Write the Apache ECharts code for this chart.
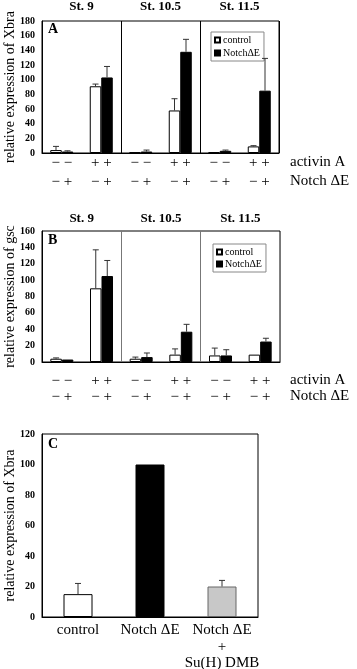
<!DOCTYPE html>
<html><head><meta charset="utf-8">
<script src="https://cdn.jsdelivr.net/npm/echarts@6/dist/echarts.min.js"></script>
<style>html,body{margin:0;padding:0;background:#fff}#c{width:357px;height:669px}</style>
</head><body><div id="c"></div>
<script>
const stages = ['St. 9', 'St. 10.5', 'St. 11.5'];
const activinRow = ['− −', '+ +', '− −', '+ +', '− −', '+ +'];
const notchRow = ['− +', '− +', '− +', '− +', '− +', '− +'];
const xbraControl = [4, 91, 1, 58, 1, 9];
const xbraControlErr = [5, 3, 0, 16, 0, 1];
const xbraNotch = [2, 103, 2, 138, 3, 85];
const xbraNotchErr = [1, 15, 2, 17, 1, 44];
const gscControl = [4, 90, 4, 9, 8, 9];
const gscControlErr = [1, 47, 2, 7, 9, 0];
const gscNotch = [3, 105, 6, 37, 8, 25];
const gscNotchErr = [0, 19, 5, 9, 7, 4];
const cCategories = ['control', 'Notch ΔE', 'Notch ΔE\n+\nSu(H) DMB'];
const cValues = [15, 100, 20];
const cErr = [7, 0, 4];

const FONT = 'Liberation Serif';
const catLabels = activinRow.map((a, i) => a + '\n' + notchRow[i]);

function errData(vals, errs) {
  return vals.map((v, i) => [i, v, v + errs[i], errs[i]]);
}
function errRender(offset) {
  return function (params, api) {
    if (api.value(3) <= 0) return null;
    const b = api.coord([api.value(0), api.value(1)]);
    const t = api.coord([api.value(0), api.value(2)]);
    const cx = b[0] + offset;
    const st = { stroke: '#333', lineWidth: 1 };
    return { type: 'group', children: [
      { type: 'line', shape: { x1: cx, y1: b[1], x2: cx, y2: t[1] }, style: st },
      { type: 'line', shape: { x1: cx - 3, y1: t[1], x2: cx + 3, y2: t[1] }, style: st }
    ]};
  };
}
function errSeries(xi, yi, vals, errs, offset) {
  return { type: 'custom', xAxisIndex: xi, yAxisIndex: yi, z: 10,
    renderItem: errRender(offset), data: errData(vals, errs), encode: { x: 0, y: [1, 2] }, silent: true };
}
function yAx(grid, max, name, gap) {
  return { type: 'value', gridIndex: grid, min: 0, max: max, interval: 20,
    axisLine: { show: true, lineStyle: { color: '#000' } }, axisTick: { show: false }, splitLine: { show: false },
    axisLabel: { fontFamily: FONT, fontSize: 10, fontWeight: 'bold', color: '#000', margin: 7 },
    name: name, nameLocation: 'middle', nameGap: gap, nameMoveOverlap: false,
    nameTextStyle: { fontFamily: FONT, fontSize: 14, color: '#000' } };
}
const ctrlStyle = { color: '#fff', borderColor: '#000', borderWidth: 1 };
const notchStyle = { color: '#000', borderColor: '#000', borderWidth: 1 };
const gridBase = { show: true, borderColor: '#000', borderWidth: 1, backgroundColor: 'transparent', containLabel: false, outerBoundsMode: 'none' };

const option = {
  animation: false,
  grid: [
    Object.assign({ left: 42, top: 21, width: 237, height: 132 }, gridBase),
    Object.assign({ left: 42, top: 231, width: 238, height: 131 }, gridBase),
    Object.assign({ left: 42, top: 434, width: 216, height: 183 }, gridBase)
  ],
  xAxis: [
    { type: 'category', gridIndex: 0, data: catLabels, axisTick: { show: false },
      axisLine: { lineStyle: { color: '#000' } },
      axisLabel: { fontFamily: FONT, fontSize: 15, color: '#000', lineHeight: 19, margin: 1, interval: 0 } },
    { type: 'category', gridIndex: 0, position: 'top', data: stages, axisTick: { show: false }, axisLine: { show: false },
      splitLine: { show: true, lineStyle: { color: '#000', width: 1 } },
      axisLabel: { fontFamily: FONT, fontSize: 13, fontWeight: 'bold', color: '#000', margin: 8 } },
    { type: 'category', gridIndex: 1, data: catLabels, axisTick: { show: false },
      axisLine: { lineStyle: { color: '#000' } },
      axisLabel: { fontFamily: FONT, fontSize: 15, color: '#000', lineHeight: 16, margin: 11, interval: 0 } },
    { type: 'category', gridIndex: 1, position: 'top', data: stages, axisTick: { show: false }, axisLine: { show: false },
      splitLine: { show: true, lineStyle: { color: '#777', width: 1 } },
      axisLabel: { fontFamily: FONT, fontSize: 13, fontWeight: 'bold', color: '#000', margin: 6 } },
    { type: 'category', gridIndex: 2, data: cCategories, axisTick: { show: false },
      axisLine: { lineStyle: { color: '#000' } },
      axisLabel: { fontFamily: FONT, fontSize: 15, color: '#000', lineHeight: 16.5, margin: 5, interval: 0 } }
  ],
  yAxis: [
    yAx(0, 180, 'relative expression of Xbra', 25),
    yAx(1, 160, 'relative expression of gsc', 25),
    yAx(2, 120, 'relative expression of Xbra', 25)
  ],
  legend: [
    { left: 211, top: 32, orient: 'vertical', data: ['control', 'NotchΔE'], icon: 'rect', itemWidth: 5, itemHeight: 5, itemGap: 3,
      padding: [3, 4, 3, 3], borderColor: '#888', borderWidth: 1, selectedMode: false,
      textStyle: { fontFamily: FONT, fontSize: 10, color: '#000', padding: [0, 0, 0, -2] } },
    { left: 213, top: 244, orient: 'vertical', data: ['control', 'NotchΔE'], icon: 'rect', itemWidth: 5, itemHeight: 5, itemGap: 2,
      padding: [3, 4, 3, 3], borderColor: '#888', borderWidth: 1, selectedMode: false,
      textStyle: { fontFamily: FONT, fontSize: 10, color: '#000', padding: [0, 0, 0, -2] } }
  ],
  graphic: [
    { type: 'text', left: 48, top: 22, style: { text: 'A', font: 'bold 14px "Liberation Serif"', fill: '#000' } },
    { type: 'text', left: 48, top: 233, style: { text: 'B', font: 'bold 14px "Liberation Serif"', fill: '#000' } },
    { type: 'text', left: 48, top: 437, style: { text: 'C', font: 'bold 14px "Liberation Serif"', fill: '#000' } },
    { type: 'text', left: 290, top: 155, style: { text: 'activin A', font: '15px "Liberation Serif"', fill: '#000' } },
    { type: 'text', left: 290, top: 174, style: { text: 'Notch ΔE', font: '15px "Liberation Serif"', fill: '#000' } },
    { type: 'text', left: 290, top: 373, style: { text: 'activin A', font: '15px "Liberation Serif"', fill: '#000' } },
    { type: 'text', left: 290, top: 389, style: { text: 'Notch ΔE', font: '15px "Liberation Serif"', fill: '#000' } }
  ],
  series: [
    { name: 'control', type: 'bar', xAxisIndex: 0, yAxisIndex: 0, data: xbraControl, barWidth: 11.5, barGap: '0%', itemStyle: ctrlStyle },
    { name: 'NotchΔE', type: 'bar', xAxisIndex: 0, yAxisIndex: 0, data: xbraNotch, barWidth: 11.5, barGap: '0%', itemStyle: notchStyle },
    errSeries(0, 0, xbraControl, xbraControlErr, -5.75),
    errSeries(0, 0, xbraNotch, xbraNotchErr, 5.75),
    { name: 'control', type: 'bar', xAxisIndex: 2, yAxisIndex: 1, data: gscControl, barWidth: 11.5, barGap: '0%', itemStyle: ctrlStyle },
    { name: 'NotchΔE', type: 'bar', xAxisIndex: 2, yAxisIndex: 1, data: gscNotch, barWidth: 11.5, barGap: '0%', itemStyle: notchStyle },
    errSeries(2, 1, gscControl, gscControlErr, -5.75),
    errSeries(2, 1, gscNotch, gscNotchErr, 5.75),
    { name: 'C', type: 'bar', xAxisIndex: 4, yAxisIndex: 2, barWidth: 29,
      data: cValues.map((v, i) => ({ value: v, itemStyle: { color: ['#fff', '#000', '#c8c8c8'][i], borderColor: ['#000', '#000', '#666'][i], borderWidth: 1 } })) },
    errSeries(4, 2, cValues, cErr, 0)
  ]
};
const chart = echarts.init(document.getElementById('c'), null, { renderer: 'canvas' });
chart.setOption(option);
</script></body></html>
